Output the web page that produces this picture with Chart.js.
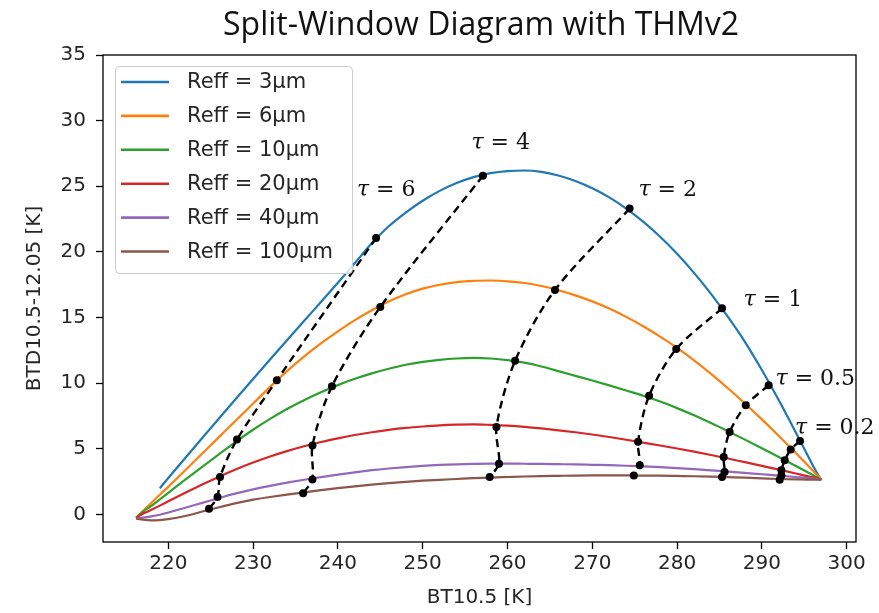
<!DOCTYPE html>
<html>
<head>
<meta charset="utf-8">
<script src="https://cdn.jsdelivr.net/npm/chart.js@4.4.0/dist/chart.umd.min.js"></script>
<style>
  html, body { margin: 0; padding: 0; background: #fff; }
</style>
</head>
<body>
<canvas id="graphique" width="879" height="613"></canvas>
<script>
// ticks of both axes
const xTicks = [220, 230, 240, 250, 260, 270, 280, 290, 300];
const yTicks = [0, 5, 10, 15, 20, 25, 30, 35];

// one curve per effective radius
const reffLabels = ['Reff = 3µm', 'Reff = 6µm', 'Reff = 10µm', 'Reff = 20µm', 'Reff = 40µm', 'Reff = 100µm'];
const reffColors = ['#1f77b4', '#ff7f0e', '#2ca02c', '#d62728', '#9467bd', '#8c564b'];

// BT10.5 for the 3um curve (it starts later than the others)
const btReff3 = [219, 220, 222, 224, 226, 228, 230, 232, 234, 236, 238, 240, 242, 244, 246, 248, 250, 252, 254, 256,
  258, 260, 262, 264, 266, 268, 270, 272, 274, 276, 278, 280, 282, 284, 286, 288, 290, 292, 294, 296, 297];
const btdReff3 = [2.0, 2.77, 4.3, 5.82, 7.33, 8.83, 10.32, 11.8, 13.27, 14.73, 16.18, 17.65, 19.15, 20.65, 21.95, 23.0, 23.9, 24.65, 25.25, 25.7,
  26.0, 26.16, 26.2, 26.1, 25.82, 25.4, 24.85, 24.15, 23.3, 22.3, 21.15, 19.85, 18.4, 16.8, 15.05, 13.15, 11.0, 8.7, 6.25, 3.75, 2.6];

// BT10.5 shared by the other curves
const btGrid = [216.2, 217, 218, 219, 220, 222, 224, 226, 228, 230, 232, 234, 236, 238, 240, 242, 244, 246, 248, 250, 252, 254,
  256, 258, 260, 262, 264, 266, 268, 270, 272, 274, 276, 278, 280, 282, 284, 286, 288, 290, 292, 294, 296, 297];
const btdReff6 = [-0.25, 0.25, 0.87, 1.5, 2.1, 3.37, 4.64, 5.91, 7.17, 8.45, 9.72, 10.92, 12.02, 13.03, 13.95, 14.8, 15.56, 16.22, 16.77, 17.2, 17.5, 17.7,
  17.8, 17.82, 17.76, 17.63, 17.4, 17.08, 16.69, 16.23, 15.68, 15.05, 14.34, 13.55, 12.69, 11.74, 10.71, 9.61, 8.45, 7.24, 5.98, 4.68, 3.35, 2.65];
const btdReff10 = [-0.25, 0.2, 0.65, 1.15, 1.65, 2.65, 3.63, 4.6, 5.55, 6.45, 7.28, 8.03, 8.7, 9.3, 9.85, 10.33, 10.75, 11.1, 11.4, 11.62, 11.78, 11.88,
  11.92, 11.88, 11.76, 11.56, 11.27, 10.92, 10.56, 10.2, 9.83, 9.44, 9.04, 8.6, 8.1, 7.55, 6.96, 6.34, 5.7, 5.04, 4.37, 3.69, 3.0, 2.65];
const btdReff20 = [-0.25, 0.05, 0.35, 0.67, 1.0, 1.65, 2.28, 2.88, 3.44, 3.95, 4.41, 4.82, 5.19, 5.52, 5.8, 6.05, 6.26, 6.44, 6.59, 6.7, 6.79, 6.84,
  6.86, 6.82, 6.76, 6.67, 6.55, 6.41, 6.26, 6.09, 5.9, 5.69, 5.47, 5.25, 5.02, 4.78, 4.53, 4.26, 3.98, 3.7, 3.41, 3.12, 2.82, 2.65];
const btdReff40 = [-0.3, -0.25, -0.15, -0.02, 0.15, 0.51, 0.88, 1.25, 1.6, 1.91, 2.18, 2.42, 2.64, 2.84, 3.03, 3.21, 3.37, 3.5, 3.61, 3.7, 3.77, 3.82,
  3.85, 3.87, 3.87, 3.86, 3.85, 3.83, 3.81, 3.78, 3.75, 3.71, 3.66, 3.6, 3.53, 3.45, 3.36, 3.26, 3.16, 3.06, 2.96, 2.85, 2.73, 2.65];
const btdReff100 = [-0.3, -0.4, -0.45, -0.43, -0.36, -0.12, 0.22, 0.55, 0.86, 1.13, 1.33, 1.51, 1.68, 1.85, 2.0, 2.14, 2.27, 2.38, 2.48, 2.57, 2.64, 2.7,
  2.76, 2.81, 2.85, 2.89, 2.92, 2.94, 2.96, 2.97, 2.97, 2.97, 2.96, 2.95, 2.93, 2.91, 2.88, 2.84, 2.8, 2.75, 2.7, 2.67, 2.65, 2.65];

// optical thickness isolines, one point per radius (3um ... 100um)
const tauNames = ['τ = 6', 'τ = 4', 'τ = 2', 'τ = 1', 'τ = 0.5', 'τ = 0.2'];
const tauBT = [
  [244.5, 232.8, 228.1, 226.1, 225.8, 224.8],
  [257.1, 245.0, 239.3, 237.0, 237.0, 235.9],
  [274.4, 265.6, 260.9, 258.7, 259.0, 257.9],
  [285.3, 279.9, 276.7, 275.4, 275.6, 274.9],
  [290.8, 288.1, 286.2, 285.5, 285.6, 285.3],
  [294.5, 293.4, 292.7, 292.3, 292.3, 292.1]
];
const tauBTD = [
  [21.05, 10.22, 5.70, 2.85, 1.32, 0.43],
  [25.8, 15.8, 9.76, 5.26, 2.67, 1.62],
  [23.3, 17.1, 11.7, 6.66, 3.87, 2.85],
  [15.7, 12.6, 9.04, 5.53, 3.74, 2.97],
  [9.84, 8.31, 6.28, 4.37, 3.23, 2.85],
  [5.59, 4.94, 4.12, 3.36, 2.97, 2.65]
];
// where each tau label sits, in axis units
const tauLabelBT = [245.7, 259.2, 278.9, 291.3, 296.3, 298.6];
const tauLabelBTD = [24.7, 28.3, 24.7, 16.3, 10.3, 6.56];

function points(xs, ys) {
  return xs.map((x, i) => ({ x: x, y: ys[i] }));
}

const curveX = [btReff3, btGrid, btGrid, btGrid, btGrid, btGrid];
const curveY = [btdReff3, btdReff6, btdReff10, btdReff20, btdReff40, btdReff100];

const datasets = [];
for (let i = 0; i < reffLabels.length; i++) {
  datasets.push({
    label: reffLabels[i],
    data: points(curveX[i], curveY[i]),
    showLine: true,
    borderColor: reffColors[i],
    borderWidth: 2.2,
    pointRadius: 0,
    cubicInterpolationMode: 'monotone',
    order: 10 - i
  });
}
for (let i = 0; i < tauNames.length; i++) {
  datasets.push({
    label: tauNames[i],
    data: points(tauBT[i], tauBTD[i]),
    showLine: true,
    borderColor: '#000',
    borderWidth: 2.4,
    borderDash: [8, 5],
    tension: 0.3,
    pointRadius: 4,
    pointBackgroundColor: '#000',
    pointBorderWidth: 0,
    order: 0
  });
}

const tickFont = { family: 'DejaVu Sans', size: 20 };
const textColor = '#262626';

// frame, tau labels, legend and title
const decor = {
  id: 'decor',
  beforeDatasetsDraw(chart) {
    const ctx = chart.ctx, a = chart.chartArea;
    ctx.save();
    ctx.strokeStyle = '#000';
    ctx.lineWidth = 1.3;
    ctx.strokeRect(a.left, a.top, a.right - a.left, a.bottom - a.top);
    ctx.restore();
  },
  afterDatasetsDraw(chart) {
    const ctx = chart.ctx;
    const xs = chart.scales.x, ys = chart.scales.y;

    // tau labels: italic tau, upright rest
    ctx.save();
    ctx.fillStyle = '#111';
    ctx.textBaseline = 'middle';
    ctx.textAlign = 'left';
    for (let i = 0; i < tauNames.length; i++) {
      const head = tauNames[i].slice(0, 1);
      const rest = tauNames[i].slice(1);
      ctx.font = 'italic 22px "DejaVu Serif"';
      const w1 = ctx.measureText(head).width;
      ctx.font = '22px "DejaVu Serif"';
      const w2 = ctx.measureText(rest).width;
      const cx = xs.getPixelForValue(tauLabelBT[i]);
      const cy = ys.getPixelForValue(tauLabelBTD[i]);
      const x0 = cx - (w1 + w2) / 2;
      ctx.font = 'italic 22px "DejaVu Serif"';
      ctx.fillText(head, x0, cy);
      ctx.font = '22px "DejaVu Serif"';
      ctx.fillText(rest, x0 + w1, cy);
    }
    ctx.restore();

    // legend box
    ctx.save();
    ctx.beginPath();
    ctx.roundRect(115.5, 66.5, 237, 207, 4);
    ctx.fillStyle = 'rgba(255,255,255,0.8)';
    ctx.fill();
    ctx.strokeStyle = '#cccccc';
    ctx.lineWidth = 1;
    ctx.stroke();
    ctx.font = '21px "DejaVu Sans"';
    ctx.textBaseline = 'middle';
    ctx.textAlign = 'left';
    for (let i = 0; i < reffLabels.length; i++) {
      const y = 82 + i * 33.9;
      ctx.strokeStyle = reffColors[i];
      ctx.lineWidth = 2.6;
      ctx.beginPath();
      ctx.moveTo(121, y);
      ctx.lineTo(169, y);
      ctx.stroke();
      ctx.fillStyle = textColor;
      ctx.fillText(reffLabels[i], 187, y + 1);
    }
    ctx.restore();
  },
  afterDraw(chart) {
    const ctx = chart.ctx;
    ctx.save();
    ctx.font = '32px "Open Sans"';
    ctx.fillStyle = '#111';
    ctx.textAlign = 'center';
    ctx.textBaseline = 'alphabetic';
    ctx.fillText('Split-Window Diagram with THMv2', 481, 35);
    ctx.restore();
  }
};

new Chart(document.getElementById('graphique').getContext('2d'), {
  type: 'scatter',
  data: { datasets: datasets },
  options: {
    responsive: false,
    animation: false,
    layout: { padding: { top: 55, right: 23, left: 0, bottom: 0 } },
    plugins: {
      legend: { display: false },
      title: { display: false },
      tooltip: { enabled: false }
    },
    scales: {
      x: {
        type: 'linear',
        min: 212.3,
        max: 301.1,
        afterBuildTicks: s => { s.ticks = xTicks.map(v => ({ value: v })); },
        afterFit: s => { s.height = 71; },
        ticks: { font: tickFont, color: textColor, padding: 3, maxRotation: 0 },
        grid: { drawOnChartArea: false, drawTicks: true, tickLength: 7, tickColor: '#000', tickWidth: 1.3 },
        border: { display: false },
        title: { display: true, text: 'BT10.5 [K]', font: tickFont, color: textColor, padding: { top: 0, bottom: 3 } }
      },
      y: {
        type: 'linear',
        min: -2.1,
        max: 35,
        afterBuildTicks: s => { s.ticks = yTicks.map(v => ({ value: v })); },
        afterFit: s => { s.width = 103; },
        ticks: { font: tickFont, color: textColor, padding: 10 },
        grid: { drawOnChartArea: false, drawTicks: true, tickLength: 7, tickColor: '#000', tickWidth: 1.3 },
        border: { display: false },
        title: { display: true, text: 'BTD10.5-12.05 [K]', font: tickFont, color: textColor, padding: { top: 23, bottom: 0 } }
      }
    }
  },
  plugins: [decor]
});
</script>
</body>
</html>
